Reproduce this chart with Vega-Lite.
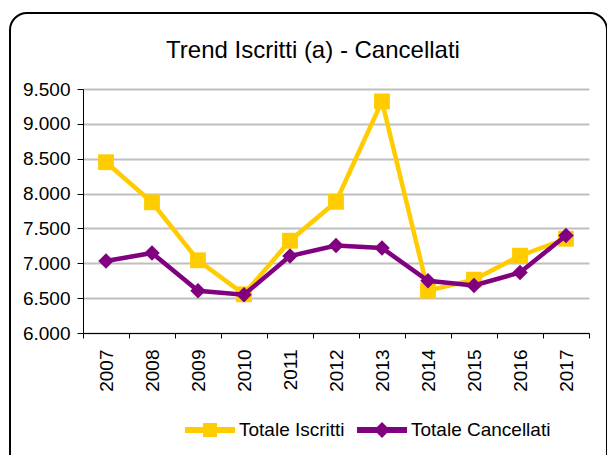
{
  "$schema": "https://vega.github.io/schema/vega-lite/v6.json",
  "width": 597,
  "height": 460,
  "autosize": {"type": "none"},
  "padding": {"left": 10, "top": 13, "right": 0, "bottom": 0},
  "background": "white",
  "view": {"stroke": "#000000", "strokeWidth": 2, "cornerRadius": 17, "fill": "white"},
  "config": {"font": "Liberation Sans"},
  "title": {
    "text": "Trend Iscritti (a) - Cancellati",
    "anchor": "middle",
    "frame": "group",
    "offset": -42,
    "baseline": "alphabetic",
    "dx": 4.5,
    "dy": 27,
    "fontSize": 24,
    "fontWeight": "normal",
    "font": "Liberation Sans",
    "color": "#000000"
  },
  "data": {
    "values": [
      {"anno": "2007", "serie": "Totale Iscritti", "valore": 8450},
      {"anno": "2008", "serie": "Totale Iscritti", "valore": 7875},
      {"anno": "2009", "serie": "Totale Iscritti", "valore": 7043},
      {"anno": "2010", "serie": "Totale Iscritti", "valore": 6555},
      {"anno": "2011", "serie": "Totale Iscritti", "valore": 7324},
      {"anno": "2012", "serie": "Totale Iscritti", "valore": 7882},
      {"anno": "2013", "serie": "Totale Iscritti", "valore": 9322},
      {"anno": "2014", "serie": "Totale Iscritti", "valore": 6608},
      {"anno": "2015", "serie": "Totale Iscritti", "valore": 6765},
      {"anno": "2016", "serie": "Totale Iscritti", "valore": 7109},
      {"anno": "2017", "serie": "Totale Iscritti", "valore": 7352},
      {"anno": "2007", "serie": "Totale Cancellati", "valore": 7033},
      {"anno": "2008", "serie": "Totale Cancellati", "valore": 7148},
      {"anno": "2009", "serie": "Totale Cancellati", "valore": 6605},
      {"anno": "2010", "serie": "Totale Cancellati", "valore": 6548},
      {"anno": "2011", "serie": "Totale Cancellati", "valore": 7105},
      {"anno": "2012", "serie": "Totale Cancellati", "valore": 7256},
      {"anno": "2013", "serie": "Totale Cancellati", "valore": 7219},
      {"anno": "2014", "serie": "Totale Cancellati", "valore": 6748},
      {"anno": "2015", "serie": "Totale Cancellati", "valore": 6683},
      {"anno": "2016", "serie": "Totale Cancellati", "valore": 6867},
      {"anno": "2017", "serie": "Totale Cancellati", "valore": 7400}
    ]
  },
  "encoding": {
    "x": {
      "field": "anno",
      "type": "ordinal",
      "scale": {"type": "band", "range": [73, 579], "paddingInner": 0, "paddingOuter": 0},
      "axis": {
        "orient": "bottom",
        "offset": -140,
        "title": null,
        "labelAngle": -90,
        "labelFontSize": 19,
        "labelFont": "Liberation Sans",
        "labelColor": "#000000",
        "labelPadding": 11,
        "tickBand": "extent",
        "tickSize": 5,
        "tickColor": "#000000",
        "domainColor": "#000000",
        "domainWidth": 1,
        "grid": false
      }
    },
    "y": {
      "field": "valore",
      "type": "quantitative",
      "scale": {"domain": [6000, 9500], "range": [320, 76], "nice": false, "zero": false},
      "axis": {
        "orient": "left",
        "offset": -73,
        "title": null,
        "values": [6000, 6500, 7000, 7500, 8000, 8500, 9000, 9500],
        "labelExpr": "replace(format(datum.value, ','), ',', '.')",
        "labelFontSize": 19,
        "labelFont": "Liberation Sans",
        "labelColor": "#000000",
        "labelPadding": 7,
        "labelOverlap": false,
        "tickSize": 6,
        "tickColor": "#000000",
        "domainColor": "#000000",
        "grid": true,
        "gridColor": "#BFBFBF",
        "gridWidth": 2
      }
    }
  },
  "layer": [
    {
      "transform": [{"filter": "datum.serie === 'Totale Iscritti'"}],
      "mark": {"type": "line", "color": "#FFCC00", "strokeWidth": 4.5}
    },
    {
      "transform": [{"filter": "datum.serie === 'Totale Iscritti'"}],
      "mark": {"type": "point", "shape": "square", "filled": true, "color": "#FFCC00", "size": 250, "opacity": 1}
    },
    {
      "transform": [{"filter": "datum.serie === 'Totale Cancellati'"}],
      "mark": {"type": "line", "color": "#800080", "strokeWidth": 4.5}
    },
    {
      "transform": [{"filter": "datum.serie === 'Totale Cancellati'"}],
      "mark": {"type": "point", "shape": "diamond", "filled": true, "color": "#800080", "size": 240, "opacity": 1}
    },
    {
      "transform": [{"filter": "false"}],
      "mark": {"type": "point", "filled": true, "opacity": 1, "size": 2500},
      "encoding": {
        "color": {
          "field": "serie",
          "type": "nominal",
          "scale": {"domain": ["Totale Iscritti", "Totale Cancellati"], "range": ["#FFCC00", "#800080"]},
          "legend": {
            "orient": "none",
            "legendX": 175,
            "legendY": 392,
            "direction": "horizontal",
            "title": null,
            "labelFontSize": 19,
            "labelFont": "Liberation Sans",
            "labelColor": "#000000",
            "labelOffset": 4,
            "labelLimit": 300,
            "columnPadding": 12,
            "symbolSize": 2500,
            "symbolStrokeWidth": 0,
            "symbolOpacity": 1,
            "padding": 0
          }
        },
        "shape": {
          "field": "serie",
          "type": "nominal",
          "scale": {
            "domain": ["Totale Iscritti", "Totale Cancellati"],
            "range": [
              "M-1,-0.12H1V0.12H-1Z M-0.28,-0.28H0.28V0.28H-0.28Z",
              "M-1,-0.12H1V0.12H-1Z M0,-0.32L0.32,0L0,0.32L-0.32,0Z"
            ]
          }
        }
      }
    }
  ]
}
